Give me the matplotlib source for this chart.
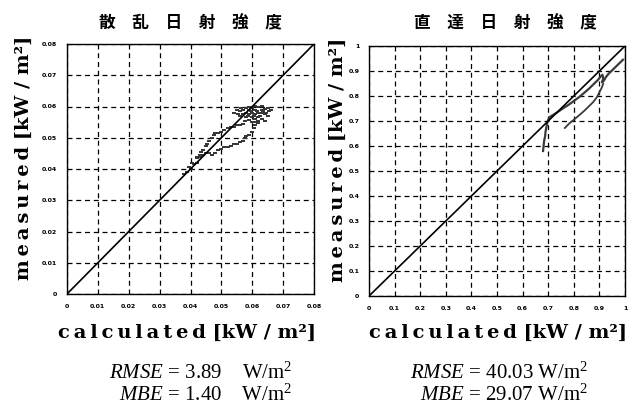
import matplotlib
matplotlib.use('Agg')
import matplotlib.pyplot as plt

plt.rcParams['mathtext.fontset'] = 'custom'
plt.rcParams['mathtext.rm'] = 'Liberation Serif'
plt.rcParams['mathtext.it'] = 'Liberation Serif:italic'

# 散乱日射: 計算値と実測値 [kW/m2]
dif_calc = [0.038, 0.039, 0.0395, 0.040, 0.041, 0.0405, 0.042, 0.042, 0.043, 0.0435,
            0.044, 0.045, 0.0455, 0.046, 0.047, 0.0475, 0.048, 0.049, 0.050, 0.051,
            0.052, 0.053, 0.054, 0.055, 0.056, 0.057,
            0.042, 0.043, 0.044, 0.045, 0.046, 0.047, 0.048, 0.049, 0.050, 0.051,
            0.052, 0.053, 0.054, 0.055, 0.056, 0.057, 0.0575, 0.058, 0.059, 0.060,
            0.0605, 0.061, 0.061, 0.062,
            0.054, 0.055, 0.056, 0.057, 0.058, 0.059, 0.060, 0.061, 0.062, 0.063,
            0.064, 0.065, 0.066, 0.0655, 0.057, 0.058, 0.059, 0.060, 0.061, 0.062,
            0.063, 0.064, 0.065, 0.056, 0.058, 0.059, 0.060, 0.061, 0.062, 0.063,
            0.064, 0.0585, 0.0595, 0.0605, 0.0615, 0.0625, 0.0635, 0.0645, 0.0555, 0.0565,
            0.059, 0.061, 0.063, 0.0575, 0.060, 0.062]
dif_meas = [0.0385, 0.039, 0.0405, 0.040, 0.0415, 0.042, 0.042, 0.0435, 0.044, 0.0455,
            0.046, 0.0475, 0.048, 0.049, 0.050, 0.051, 0.0515, 0.0515, 0.052, 0.0525,
            0.053, 0.0535, 0.0535, 0.054, 0.054, 0.0545,
            0.044, 0.0445, 0.0445, 0.045, 0.045, 0.0445, 0.045, 0.046, 0.0465, 0.047,
            0.047, 0.0475, 0.048, 0.048, 0.0485, 0.049, 0.050, 0.0505, 0.051, 0.052,
            0.053, 0.054, 0.055, 0.0555,
            0.058, 0.059, 0.0585, 0.059, 0.0595, 0.059, 0.0595, 0.059, 0.0598, 0.059,
            0.0592, 0.0595, 0.059, 0.0585, 0.0575, 0.058, 0.0575, 0.058, 0.0575, 0.058,
            0.0578, 0.0575, 0.057, 0.057, 0.0565, 0.0558, 0.0565, 0.056, 0.0565, 0.056,
            0.0555, 0.057, 0.0585, 0.057, 0.0585, 0.057, 0.0585, 0.058, 0.0575, 0.0595,
            0.060, 0.0603, 0.0602, 0.0555, 0.055, 0.0548]

# 直達日射: 計算値と実測値 [kW/m2]
dir_calc_a = [0.680, 0.682, 0.684, 0.688, 0.690, 0.694, 0.698, 0.705, 0.715, 0.725,
              0.740, 0.760, 0.780, 0.800, 0.820, 0.840, 0.860, 0.880, 0.895, 0.905,
              0.912, 0.915, 0.910, 0.918, 0.925, 0.935, 0.945, 0.955, 0.965, 0.975,
              0.985, 0.992]
dir_meas_a = [0.580, 0.600, 0.620, 0.640, 0.660, 0.680, 0.700, 0.715, 0.722, 0.728,
              0.738, 0.752, 0.765, 0.780, 0.795, 0.812, 0.830, 0.850, 0.865, 0.878,
              0.885, 0.870, 0.855, 0.862, 0.875, 0.888, 0.898, 0.908, 0.918, 0.928,
              0.938, 0.945]
dir_calc_b = [0.765, 0.780, 0.800, 0.820, 0.840, 0.860, 0.875, 0.890, 0.900, 0.910, 0.915]
dir_meas_b = [0.672, 0.688, 0.705, 0.722, 0.740, 0.760, 0.775, 0.795, 0.815, 0.835, 0.850]

dif_ticks = [0, 0.01, 0.02, 0.03, 0.04, 0.05, 0.06, 0.07, 0.08]
dif_ticklabels = ['0', '0.01', '0.02', '0.03', '0.04', '0.05', '0.06', '0.07', '0.08']
dir_ticks = [0, 0.1, 0.2, 0.3, 0.4, 0.5, 0.6, 0.7, 0.8, 0.9, 1.0]
dir_ticklabels = ['0', '0.1', '0.2', '0.3', '0.4', '0.5', '0.6', '0.7', '0.8', '0.9', '1']

titles = ['散乱日射強度', '直達日射強度']
rmse = ['3.89   ', '40.03']
mbe = ['1.40   ', '29.07']

W, H = 643, 407
fig = plt.figure(figsize=(W / 100, H / 100), dpi=100)


def px_axes(x0, y0, x1, y1):
    return fig.add_axes([x0 / W, 1 - y1 / H, (x1 - x0) / W, (y1 - y0) / H])


def spaced(word, sep='\u2009'):
    return sep.join(word)


ax1 = px_axes(67, 44, 314, 294)
ax2 = px_axes(369, 46, 625, 296)

ax1.plot(dif_calc, dif_meas, linestyle='none', marker='_', markersize=3.5,
         markeredgewidth=1.4, color='#333333')
ax2.plot(dir_calc_a, dir_meas_a, color='#3a3a3a', lw=1.6)
ax2.plot(dir_calc_b, dir_meas_b, color='#3a3a3a', lw=1.3)

for ax, ticks, labels, lim in [(ax1, dif_ticks, dif_ticklabels, 0.08),
                               (ax2, dir_ticks, dir_ticklabels, 1.0)]:
    ax.plot([0, lim], [0, lim], color='black', lw=1.2)
    ax.set_xlim(0, lim)
    ax.set_ylim(0, lim)
    ax.set_xticks(ticks)
    ax.set_yticks(ticks)
    ax.set_xticklabels(labels, fontsize=4.5, fontweight='bold')
    ax.set_yticklabels(labels, fontsize=4.5, fontweight='bold')
    ax.tick_params(length=0, pad=7)
    ax.grid(True, color='black', lw=0.9, linestyle=(0, (4, 3)))
    for s in ax.spines.values():
        s.set_linewidth(1.0)

# タイトル
for cx, t in [(190, titles[0]), (505, titles[1])]:
    fig.text(cx / W, 1 - 23 / H, spaced(t, '\u3000'), fontsize=12, fontweight='bold',
             family=['Noto Sans CJK JP'], ha='center', va='center')

# 軸ラベル
xlab = spaced('calculated') + ' [kW / m²]'
ylab = spaced('measured') + ' [kW / m²]'
for cx in [187, 498]:
    fig.text(cx / W, 1 - 333 / H, xlab, fontsize=14, fontweight='heavy',
             family='DejaVu Serif', ha='center', va='center')
for yx, cy in [(24, 158), (338, 160)]:
    fig.text(yx / W, 1 - cy / H, ylab, fontsize=14, fontweight='heavy',
             family='DejaVu Serif', ha='center', va='center', rotation=90)

# 誤差指標
for rx, r, m in [(292, rmse[0], mbe[0]), (588, rmse[1], mbe[1])]:
    fig.text(rx / W, 1 - 373 / H, r'$\mathit{RMSE}$ = ' + r + ' W/m$^2$',
             fontsize=15, family='Liberation Serif', ha='right', va='center')
    fig.text(rx / W, 1 - 395 / H, r'$\mathit{MBE}$ = ' + m + ' W/m$^2$',
             fontsize=15, family='Liberation Serif', ha='right', va='center')

fig.savefig('out.png', dpi=100)
